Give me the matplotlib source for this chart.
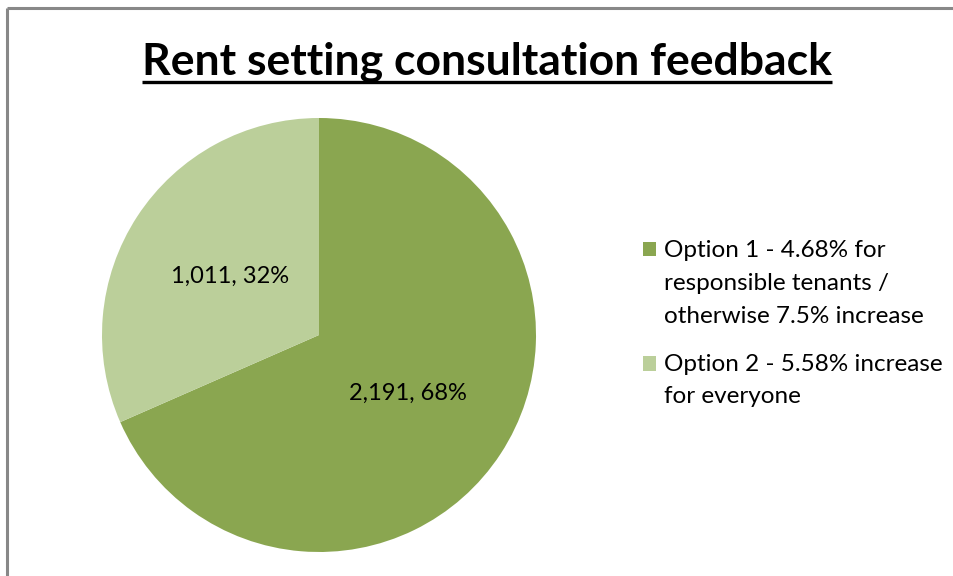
import matplotlib.pyplot as plt
from matplotlib.lines import Line2D
from matplotlib.patches import Rectangle
from matplotlib.legend_handler import HandlerPatch

plt.rcParams['font.family'] = ['Lato', 'DejaVu Sans']

labels = ["Option 1 - 4.68% for\nresponsible tenants /\notherwise 7.5% increase",
          "Option 2 - 5.58% increase\nfor everyone"]
counts = [2191, 1011]
colors = ["#8AA650", "#BBCF9A"]
title = "Rent setting consultation feedback"

W, H = 954, 576
fig = plt.figure(figsize=(W / 100, H / 100), dpi=100)

# pie area in pixel terms -> figure fractions
cx, cy, r = 319, 335, 217
ax = fig.add_axes([(cx - r) / W, (H - cy - r) / H, 2 * r / W, 2 * r / H])

total = sum(counts)


def fmt(pct):
    n = int(round(pct * total / 100))
    return f"{n:,}, {pct:.0f}%"


wedges, _, autotexts = ax.pie(counts, colors=colors, startangle=90, counterclock=False,
                              autopct=fmt, pctdistance=0.49,
                              wedgeprops=dict(linewidth=0),
                              textprops=dict(fontsize=17, color="black"))
ax.set_xlim(-1, 1)
ax.set_ylim(-1, 1)
ax.set_aspect("equal")
ax.axis("off")

t = fig.text(0.511, 1 - 62 / H, title, ha="center", va="center",
             fontsize=32, fontweight="bold")
# underline matching the title width
fig.canvas.draw()
bb = t.get_window_extent().transformed(fig.transFigure.inverted())
fig.add_artist(Line2D([bb.x0, bb.x1], [1 - 82 / H, 1 - 82 / H],
                      color="black", linewidth=2.4, solid_capstyle="butt"))

# legend squares sit beside the first line of each entry (Excel style)
FS = 17.5
LS = 1.7
nlines = {}


class FirstLineSquare(HandlerPatch):
    def create_artists(self, legend, orig_handle, xdescent, ydescent,
                       width, height, fontsize, trans):
        n = nlines[id(orig_handle)]
        shift = (n - 1) / 2 * fontsize * LS * 0.826
        p = Rectangle((-xdescent, -ydescent + shift), width, height,
                      facecolor=orig_handle.get_facecolor(), linewidth=0)
        p.set_transform(trans)
        return [p]


handles = []
for c, lab in zip(colors, labels):
    h = Rectangle((0, 0), 1, 1, facecolor=c)
    nlines[id(h)] = lab.count("\n") + 1
    handles.append(h)

leg = fig.legend(handles, labels, loc="upper left",
                 bbox_to_anchor=(643 / W, 1 - 240 / H), frameon=False,
                 fontsize=FS, handlelength=0.54, handleheight=0.54,
                 handletextpad=0.33, labelspacing=1.1,
                 borderpad=0, borderaxespad=0,
                 handler_map={Rectangle: FirstLineSquare()})
for txt in leg.get_texts():
    txt.set_linespacing(LS)

# chart border: top and left only visible
fig.add_artist(Line2D([7 / W, 7 / W], [0, 1 - 8 / H], color="#888888",
                      linewidth=2.2, solid_capstyle="butt"))
fig.add_artist(Line2D([7 / W, (W - 1) / W], [1 - 8 / H, 1 - 8 / H], color="#888888",
                      linewidth=2.2, solid_capstyle="butt"))

fig.savefig("out.png", dpi=100, facecolor="white")
